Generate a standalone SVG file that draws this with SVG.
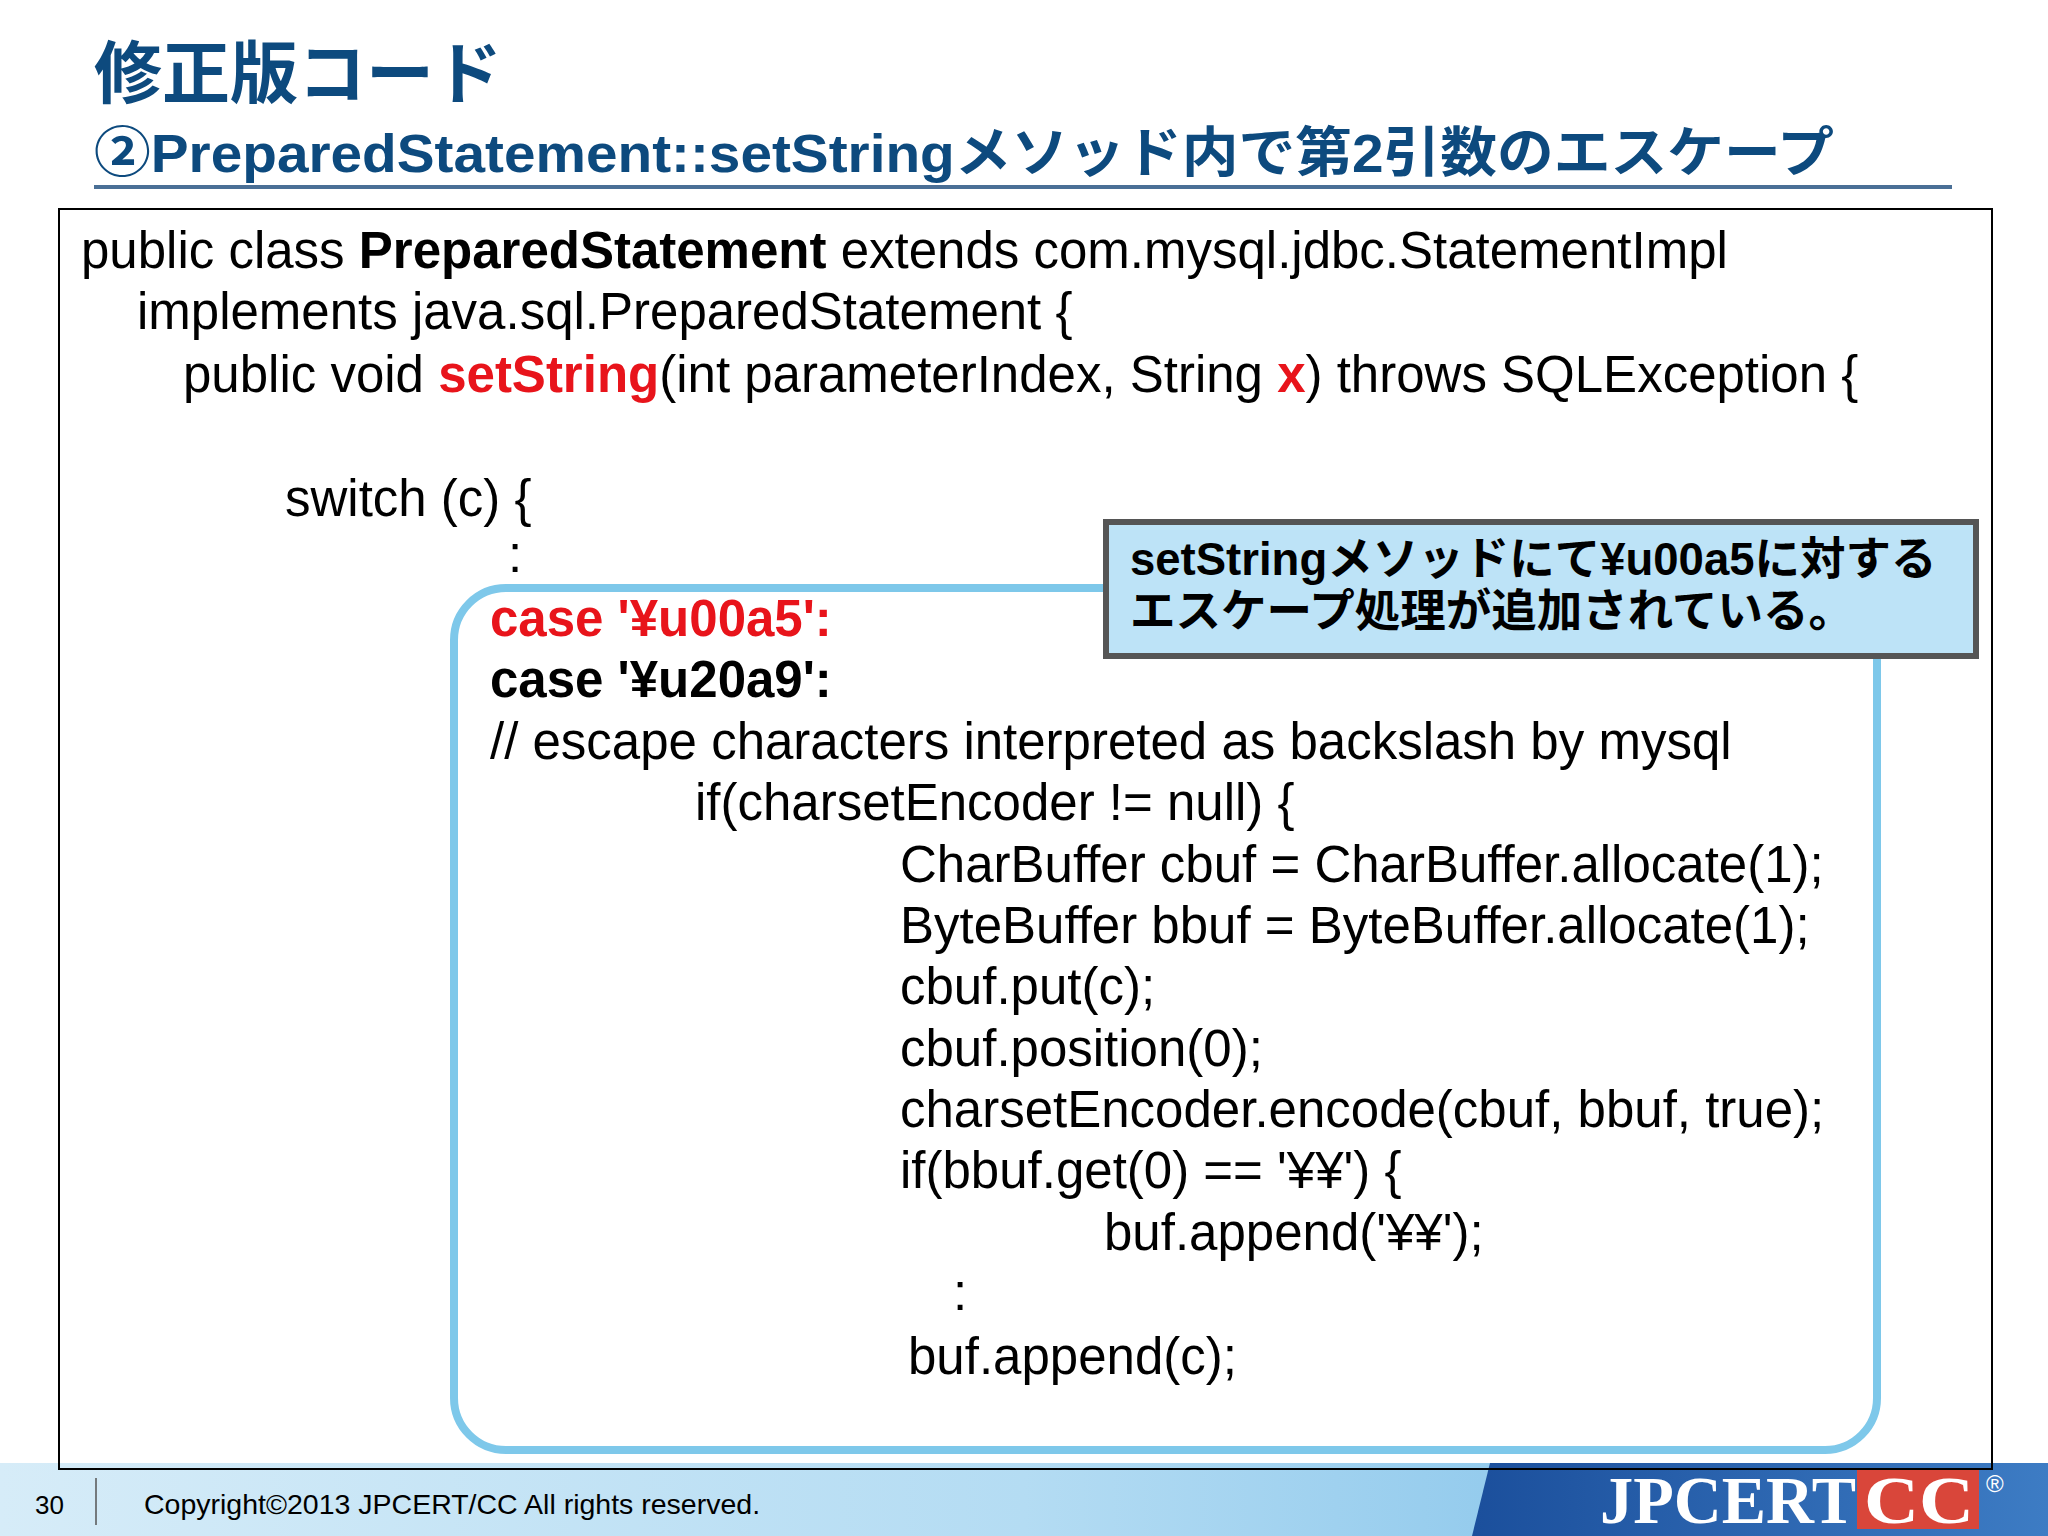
<svg xmlns="http://www.w3.org/2000/svg" width="2048" height="1536" viewBox="0 0 2048 1536">
<defs>
<style>
.t{font-family:"Liberation Sans","Noto Sans CJK JP",sans-serif}
.c{font-family:"Liberation Sans","Noto Sans CJK JP",sans-serif;font-size:51px;fill:#000}
.b{font-weight:bold}
.r{fill:#e8141b}
</style>
<linearGradient id="ft" x1="0" y1="0" x2="1" y2="0">
<stop offset="0" stop-color="#d6ecf8"/><stop offset="0.5" stop-color="#b4dcf3"/><stop offset="1" stop-color="#6fb8e6"/>
</linearGradient>
<linearGradient id="dk" x1="0" y1="0" x2="1" y2="0">
<stop offset="0" stop-color="#1b4f9c"/><stop offset="1" stop-color="#3d7cc4"/>
</linearGradient>
</defs>
<rect width="2048" height="1536" fill="#fff"/>
<g id="title">
<text class="t b" x="94" y="98" font-size="68" fill="#0d4a7e">修正版コード</text>
<text class="t b" x="94" y="172" font-size="54" fill="#0d4a7e" textLength="1740" lengthAdjust="spacingAndGlyphs">②PreparedStatement::setStringメソッド内で第2引数のエスケープ</text>
<line x1="94" y1="187" x2="1952" y2="187" stroke="#4a6f96" stroke-width="4"/>
</g>
<g id="footer">
<rect x="0" y="1463" width="2048" height="73" fill="url(#ft)"/>
<polygon points="1490,1463 2048,1463 2048,1536 1472,1536" fill="url(#dk)"/>
<text class="t" x="35" y="1514" font-size="26" fill="#000">30</text>
<line x1="96" y1="1478" x2="96" y2="1525" stroke="#555" stroke-width="1.5"/>
<text class="t" x="144" y="1514" font-size="28.5" fill="#000">Copyright©2013 JPCERT/CC All rights reserved.</text>
<rect x="1857" y="1469" width="122" height="60" fill="#d9463a"/>
<text x="1600" y="1523" font-family="Liberation Serif,serif" font-weight="bold" font-size="68" fill="#fff" textLength="256" lengthAdjust="spacingAndGlyphs">JPCERT</text>
<text x="1864" y="1523" font-family="Liberation Serif,serif" font-weight="bold" font-size="68" fill="#fff" textLength="110" lengthAdjust="spacingAndGlyphs">CC</text>
<text x="1986" y="1492" font-family="Liberation Sans,sans-serif" font-size="24" fill="#fff">®</text>
</g>
<g id="codebox">
<rect x="59" y="209" width="1933" height="1260" fill="none" stroke="#000" stroke-width="2"/>
</g>
<g id="highlight">
<rect x="454" y="588" width="1423" height="862" rx="52" fill="none" stroke="#7ec8ea" stroke-width="8"/>
</g>
<g id="code">
<text class="c" x="81" y="268">public class <tspan class="b">PreparedStatement</tspan> extends com.mysql.jdbc.StatementImpl</text>
<text class="c" x="137" y="329">implements  java.sql.PreparedStatement {</text>
<text class="c" x="183" y="392">public void <tspan class="b r">setString</tspan>(int parameterIndex, String <tspan class="b r">x</tspan>) throws SQLException {</text>
<text class="c" x="285" y="516">switch (c) {</text>
<text class="c" x="508" y="572">:</text>
<text class="c b r" x="490" y="636">case '¥u00a5':</text>
<text class="c b" x="490" y="697">case '¥u20a9':</text>
<text class="c" x="490" y="759">// escape characters interpreted as backslash by mysql</text>
<text class="c" x="695" y="820">if(charsetEncoder != null) {</text>
<text class="c" x="900" y="882">CharBuffer cbuf = CharBuffer.allocate(1);</text>
<text class="c" x="900" y="943">ByteBuffer bbuf = ByteBuffer.allocate(1);</text>
<text class="c" x="900" y="1004">cbuf.put(c);</text>
<text class="c" x="900" y="1066">cbuf.position(0);</text>
<text class="c" x="900" y="1127">charsetEncoder.encode(cbuf, bbuf, true);</text>
<text class="c" x="900" y="1188">if(bbuf.get(0) == '¥¥') {</text>
<text class="c" x="1104" y="1250">buf.append('¥¥');</text>
<text class="c" x="953" y="1310">:</text>
<text class="c" x="908" y="1374">buf.append(c);</text>
</g>
<g id="callout">
<rect x="1106" y="522" width="870" height="134" fill="#bde3f7" stroke="#555" stroke-width="6"/>
<text class="t b" x="1130" y="575" font-size="45.5" fill="#000">setStringメソッドにて¥u00a5に対する</text>
<text class="t b" x="1130" y="627" font-size="45.5" fill="#000">エスケープ処理が追加されている。</text>
</g>
<g id="connectors"/>
</svg>
